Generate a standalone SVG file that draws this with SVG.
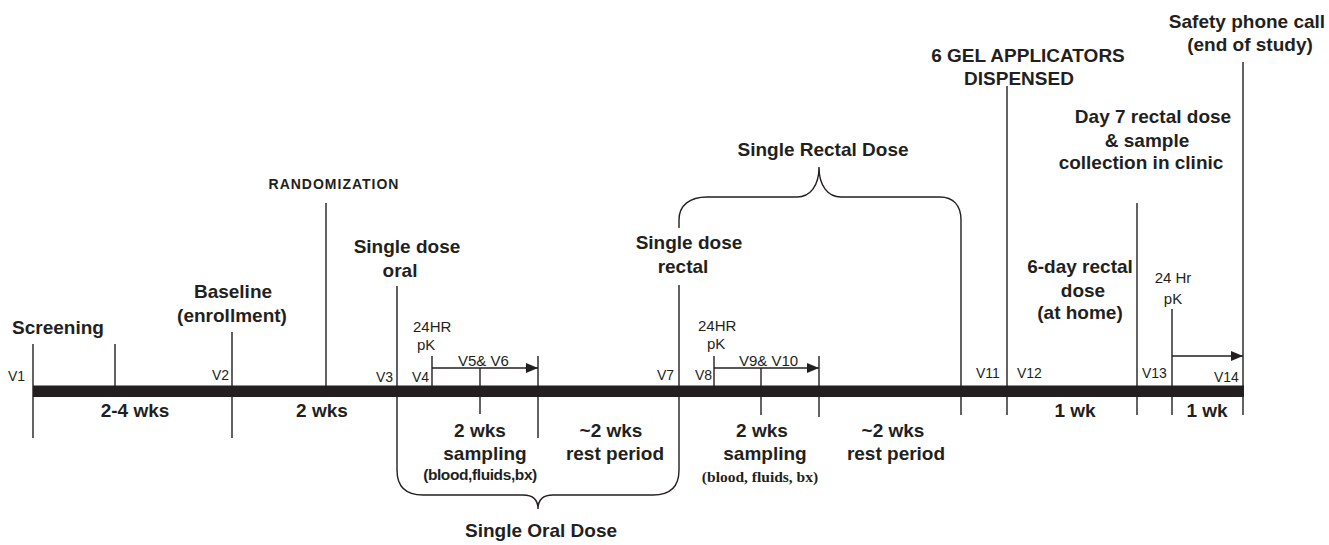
<svg xmlns="http://www.w3.org/2000/svg" width="1329" height="545" viewBox="0 0 1329 545">
<defs>
<style>
.b{font-family:"Liberation Sans",Arial,sans-serif;font-weight:bold;font-size:19px;fill:#231f20;text-anchor:middle}
.r{font-family:"Liberation Sans",Arial,sans-serif;font-size:15px;fill:#231f20}
.v{font-family:"Liberation Sans",Arial,sans-serif;font-size:14px;fill:#231f20}
.sm{font-family:"Liberation Sans",Arial,sans-serif;font-weight:bold;font-size:15.5px;fill:#231f20;text-anchor:middle;letter-spacing:-0.4px}
.sf{font-family:"Liberation Serif","Times New Roman",serif;font-weight:bold;font-size:15.5px;fill:#231f20;text-anchor:middle}
.rz{font-family:"Liberation Sans",Arial,sans-serif;font-weight:bold;font-size:14px;fill:#231f20;text-anchor:middle;letter-spacing:1px}
.ln{stroke:#231f20;stroke-width:1.4;fill:none}
</style>
<marker id="ah" markerUnits="userSpaceOnUse" markerWidth="13" markerHeight="11" refX="12" refY="5" orient="auto">
<path d="M0,0 L12,5 L0,10 Z" fill="#231f20"/>
</marker>
</defs>
<rect width="1329" height="545" fill="#fff"/>

<g id="connectors">
<rect x="33" y="385.5" width="1211" height="11.5" fill="#231f20"/>
<line class="ln" x1="33" y1="344" x2="33" y2="438"/>
<line class="ln" x1="115" y1="344" x2="115" y2="391"/>
<line class="ln" x1="232" y1="332" x2="232" y2="438"/>
<line class="ln" x1="326" y1="203" x2="326" y2="391"/>
<line class="ln" x1="432" y1="356" x2="432" y2="391"/>
<line class="ln" x1="480" y1="368" x2="480" y2="414"/>
<line class="ln" x1="538" y1="356" x2="538" y2="438"/>
<line class="ln" x1="432" y1="368" x2="538" y2="368" marker-end="url(#ah)"/>
<path class="ln" d="M397,286 L397,470 C397,486 405,495 423,495 L523,495 C533,495 538,500 538,509 C538,500 543,495 553,495 L653,495 C671,495 679,486 679,470 L679,285"/>
<line class="ln" x1="714" y1="356" x2="714" y2="391"/>
<line class="ln" x1="761" y1="368" x2="761" y2="415"/>
<line class="ln" x1="819" y1="356" x2="819" y2="417"/>
<line class="ln" x1="714" y1="368" x2="819" y2="368" marker-end="url(#ah)"/>
<path class="ln" d="M679,228 L679,220 C679,205 690,197 707,197 L797,197 C810,197 819,186 819,167 C819,186 828,197 841,197 L940,197 C953,197 961,205 961,220 L961,415"/>
<line class="ln" x1="1007" y1="86" x2="1007" y2="415"/>
<line class="ln" x1="1137" y1="203" x2="1137" y2="415"/>
<line class="ln" x1="1172" y1="309" x2="1172" y2="415"/>
<line class="ln" x1="1243" y1="62" x2="1243" y2="415"/>
<line class="ln" x1="1172" y1="356" x2="1243" y2="356" marker-end="url(#ah)"/>
</g>

<g id="screening">
<text class="b" x="58" y="334">Screening</text>
<text class="v" x="8" y="381">V1</text>
<text class="b" x="135" y="417">2-4 wks</text>
</g>

<g id="baseline">
<text class="b" x="233" y="298">Baseline</text>
<text class="b" x="232" y="322">(enrollment)</text>
<text class="v" x="212" y="380">V2</text>
<text class="b" x="322" y="417">2 wks</text>
</g>

<g id="randomization">
<text class="rz" x="334" y="189">RANDOMIZATION</text>
</g>

<g id="oral-dose">
<text class="b" x="407" y="253">Single dose</text>
<text class="b" x="400" y="277">oral</text>
<text class="v" x="376" y="382">V3</text>
<text class="v" x="412" y="382">V4</text>
<text class="r" x="413" y="332">24HR</text>
<text class="r" x="417" y="350">pK</text>
<text class="r" x="458" y="366">V5&amp; V6</text>
<text class="b" x="480" y="437">2 wks</text>
<text class="b" x="485" y="460">sampling</text>
<text class="sm" x="480" y="480">(blood,fluids,bx)</text>
<text class="b" x="611" y="437">~2 wks</text>
<text class="b" x="615" y="460">rest period</text>
<text class="b" x="541" y="537">Single Oral Dose</text>
</g>

<g id="rectal-dose">
<text class="b" x="823" y="156">Single Rectal Dose</text>
<text class="b" x="689" y="249">Single dose</text>
<text class="b" x="683" y="273">rectal</text>
<text class="v" x="657" y="380">V7</text>
<text class="v" x="695" y="380">V8</text>
<text class="r" x="698" y="331">24HR</text>
<text class="r" x="707" y="349">pK</text>
<text class="r" x="739" y="366">V9&amp; V10</text>
<text class="b" x="762" y="437">2 wks</text>
<text class="b" x="765" y="460">sampling</text>
<text class="sf" x="760" y="482">(blood, fluids, bx)</text>
<text class="b" x="893" y="437">~2 wks</text>
<text class="b" x="896" y="460">rest period</text>
</g>

<g id="gel-dispensed">
<text class="b" x="1028" y="62">6 GEL APPLICATORS</text>
<text class="b" x="1019" y="85">DISPENSED</text>
<text class="v" x="976" y="378">V11</text>
<text class="v" x="1017" y="378">V12</text>
</g>

<g id="home-dose">
<text class="b" x="1080" y="273">6-day rectal</text>
<text class="b" x="1083" y="297">dose</text>
<text class="b" x="1080" y="319">(at home)</text>
<text class="b" x="1075" y="417">1 wk</text>
</g>

<g id="day7">
<text class="b" x="1153" y="123">Day 7 rectal dose</text>
<text class="b" x="1147" y="147">&amp; sample</text>
<text class="b" x="1141" y="169">collection in clinic</text>
<text class="v" x="1142" y="378">V13</text>
<text class="r" x="1173" y="283" text-anchor="middle">24 Hr</text>
<text class="r" x="1173" y="304" text-anchor="middle">pK</text>
<text class="b" x="1207" y="417">1 wk</text>
</g>

<g id="end-of-study">
<text class="b" x="1247" y="28">Safety phone call</text>
<text class="b" x="1250" y="51">(end of study)</text>
<text class="v" x="1214" y="382">V14</text>
</g>
</svg>
